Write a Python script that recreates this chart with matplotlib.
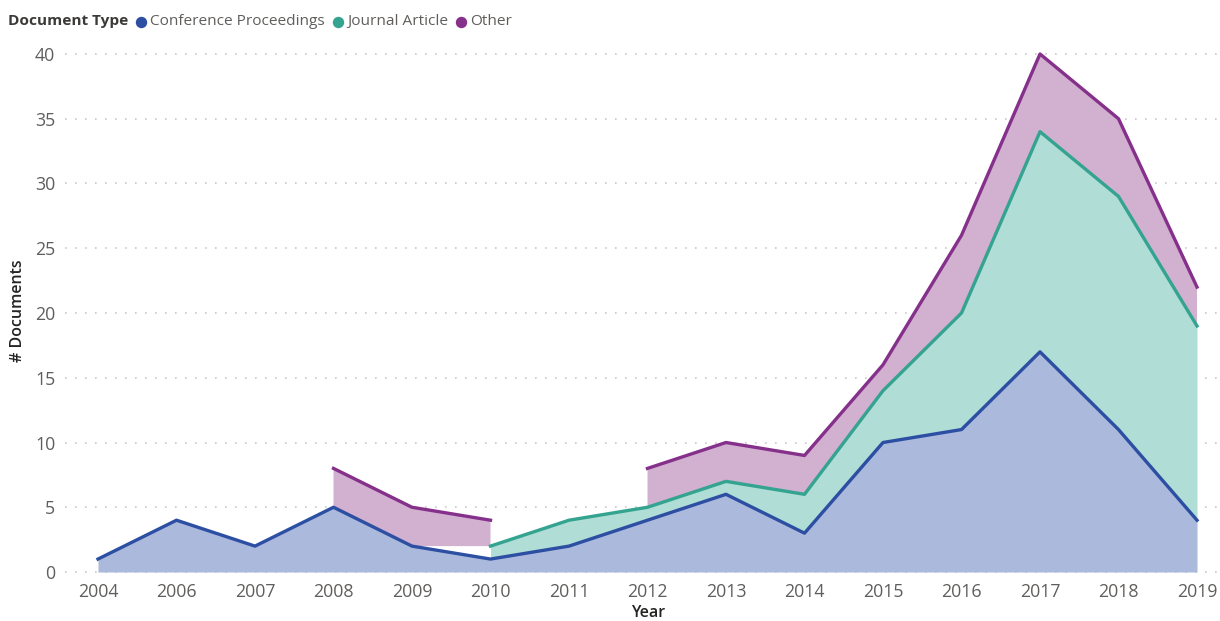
import numpy as np
import matplotlib
matplotlib.use("Agg")
import matplotlib.pyplot as plt
from matplotlib.lines import Line2D

plt.rcParams['font.family'] = ['Open Sans', 'DejaVu Sans']

years = ['2004', '2006', '2007', '2008', '2009', '2010', '2011', '2012',
         '2013', '2014', '2015', '2016', '2017', '2018', '2019']
conference = [1, 4, 2, 5, 2, 1, 2, 4, 6, 3, 10, 11, 17, 11, 4]
journal = [np.nan, np.nan, np.nan, np.nan, np.nan, 1, 2, 1, 1, 3, 4, 9, 17, 18, 15]
other = [np.nan, np.nan, np.nan, 3, 3, 2, np.nan, 3, 3, 3, 2, 6, 6, 6, 3]
series_names = ['Conference Proceedings', 'Journal Article', 'Other']

line_colors = ['#2C4FA3', '#34A390', '#85308A']
fill_colors = ['#ABB9DC', '#B0DDD5', '#D2B0D0']

W, H = 1220, 621
fig = plt.figure(figsize=(W / 100, H / 100), dpi=100)

# axes placement in pixels
x_left_px, x_right_px = 65, 1218
y_bot_px, y_top_px = 575.9, 47.5
ax = fig.add_axes([x_left_px / W, 1 - y_bot_px / H,
                   (x_right_px - x_left_px) / W, (y_bot_px - y_top_px) / H])

x = np.arange(len(years))
cp = np.array(conference, dtype=float)
ja = np.array(journal, dtype=float)
ot = np.array(other, dtype=float)

ja_base = cp
ja_top = cp + ja
ot_base = cp + np.nan_to_num(ja)
ot_top = ot_base + ot

ax.fill_between(x, 0, cp, color=fill_colors[0], lw=0, zorder=1)
ax.fill_between(x, ja_base, ja_top, color=fill_colors[1], lw=0, zorder=1)
ax.fill_between(x, ot_base, ot_top, color=fill_colors[2], lw=0, zorder=1)

ax.plot(x, cp, color=line_colors[0], lw=2.4, solid_joinstyle='round', zorder=3)
ax.plot(x, ja_top, color=line_colors[1], lw=2.4, solid_joinstyle='round', zorder=3)
ax.plot(x, ot_top, color=line_colors[2], lw=2.4, solid_joinstyle='round', zorder=3)

# x range: 2004 at px 98, 2019 at px 1197
step = (1197 - 98) / 14
ax.set_xlim(-(98 - x_left_px) / step, 14 + (x_right_px - 1197) / step)
ax.set_ylim(-0.3, 40.5)
ax.set_xticks(x)
ax.set_xticklabels(years)
ax.set_yticks(np.arange(0, 41, 5))

for s in ax.spines.values():
    s.set_visible(False)
ax.tick_params(axis='both', length=0, labelsize=12.8, labelcolor='#605E5C')
ax.tick_params(axis='y', pad=7)
ax.tick_params(axis='x', pad=5)
ax.yaxis.grid(True, color='#C8C8C8', lw=1.2, linestyle=(0, (1, 5)))
ax.set_axisbelow(True)

fig.text(648 / W, 1 - 613 / H, 'Year', ha='center', va='center',
         fontsize=11.5, fontweight='semibold', color='#252423')
fig.text(18 / W, 1 - 311 / H, '# Documents', ha='center', va='center',
         rotation=90, fontsize=11.5, fontweight='semibold', color='#252423')

# legend
renderer = fig.canvas.get_renderer()
ly = 1 - 21.5 / H
t = fig.text(8 / W, ly, 'Document Type', ha='left', va='center',
             fontsize=11.1, fontweight='bold', color='#3B3A39')
xe = t.get_window_extent(renderer).x1
for name, c in zip(series_names, line_colors):
    dot_x = xe + 13
    fig.add_artist(Line2D([dot_x / W], [ly], marker='o', markersize=7.2,
                          color=c, transform=fig.transFigure))
    t = fig.text((dot_x + 9) / W, ly, name, ha='left', va='center',
                 fontsize=11.1, color='#605E5C')
    xe = t.get_window_extent(renderer).x1

fig.savefig('out.png', dpi=100)
